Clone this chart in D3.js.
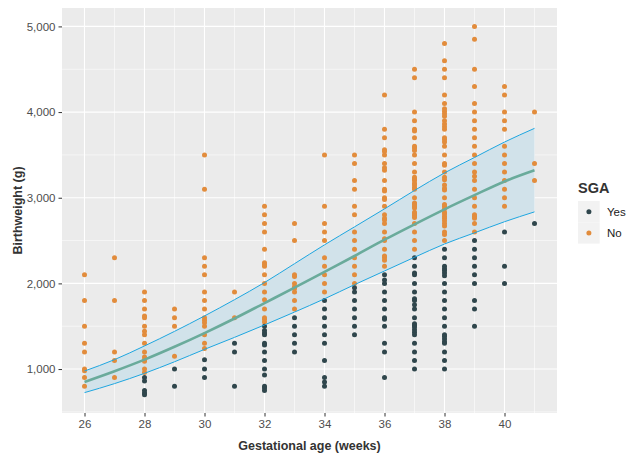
<!DOCTYPE html>
<html>
<head>
<meta charset="utf-8">
<script src="https://cdn.jsdelivr.net/npm/d3@7"></script>
<style>
  body { margin: 0; background: #fff; }
  svg { display: block; font-family: "Liberation Sans", Arial, sans-serif; }
</style>
</head>
<body>
<div id="chart"></div>
<script>
// Gestational age columns (weeks)
const ageWeeks = [26, 27, 28, 29, 30, 31, 32, 33, 34, 35, 36, 37, 38, 39, 40, 41];

// Birthweights (g) of SGA = "No" babies, one list per week
const noWeights = [
  [2100, 1800, 1500, 1300, 1200, 1000, 980, 900, 800],
  [2300, 1800, 1200, 1100, 900],
  [1900, 1800, 1700, 1620, 1600, 1500, 1440, 1400, 1300, 1200, 1140, 1110, 1090, 1000, 960],
  [1700, 1600, 1500, 1150],
  [3500, 3100, 2300, 2200, 2100, 1900, 1800, 1700, 1600, 1570, 1540, 1500, 1400, 1300, 1240],
  [1900, 1600],
  [2900, 2800, 2700, 2600, 2400, 2240, 2220, 2200, 2100, 2000, 1900, 1810, 1700, 1600, 1580, 1550],
  [2700, 2500, 2100, 2080, 2000, 1960, 1940, 1900, 1800, 1700],
  [3500, 2900, 2700, 2600, 2500, 2300, 2200, 2100, 2000, 1900],
  [3500, 3400, 3200, 3100, 2900, 2800, 2600, 2500, 2400, 2300, 2200, 2100, 2000],
  [4200, 3800, 3700, 3560, 3540, 3500, 3400, 3350, 3320, 3200, 3100, 3080, 3000, 2980, 2900, 2800,
   2760, 2740, 2700, 2600, 2520, 2500, 2400, 2320, 2300, 2270, 2200],
  [4500, 4400, 4000, 3900, 3800, 3780, 3700, 3600, 3580, 3550, 3500, 3400, 3300, 3240, 3220, 3200,
   3170, 3150, 3120, 3100, 3000, 2940, 2920, 2900, 2880, 2830, 2810, 2790, 2770, 2700, 2600, 2500, 2400],
  [4800, 4600, 4500, 4400, 4200, 4100, 4040, 4010, 3980, 3950, 3900, 3860, 3830, 3800, 3700, 3680,
   3650, 3600, 3500, 3400, 3380, 3300, 3240, 3210, 3150, 3110, 3090, 3000, 2920, 2900, 2870, 2830,
   2810, 2780, 2760, 2730, 2700, 2670, 2600, 2570, 2500],
  [5000, 4850, 4500, 4300, 4100, 4000, 3900, 3800, 3700, 3600, 3500, 3400, 3300, 3250, 3200, 3100,
   3000, 2900, 2800, 2780, 2760, 2700, 2600],
  [4300, 4200, 4000, 3900, 3800, 3600, 3500, 3400, 3300, 3200, 3100, 3000, 2900],
  [4000, 3400, 3200]
];

// Birthweights (g) of SGA = "Yes" babies, one list per week
const yesWeights = [
  [],
  [],
  [900, 860, 750, 720, 700],
  [1000, 800],
  [1110, 1000, 900],
  [1300, 1200, 800],
  [1500, 1450, 1420, 1400, 1300, 1280, 1200, 1100, 1000, 930, 800, 780, 750],
  [1600, 1500, 1400, 1300, 1200],
  [1800, 1700, 1600, 1500, 1400, 1300, 1100, 900, 850, 800],
  [1950, 1900, 1800, 1700, 1600, 1500, 1400],
  [2100, 2040, 2000, 1900, 1800, 1700, 1600, 1580, 1500, 1300, 1200, 900],
  [2300, 2200, 2120, 2100, 2000, 1900, 1820, 1800, 1750, 1700, 1600, 1530, 1510, 1490, 1460, 1430,
   1400, 1300, 1200, 1100, 1000],
  [2400, 2300, 2200, 2170, 2150, 2120, 2090, 2000, 1900, 1800, 1700, 1600, 1500, 1400, 1380, 1350,
   1320, 1300, 1200, 1100, 1000],
  [2500, 2400, 2300, 2200, 2100, 2000, 1800, 1700, 1500],
  [2600, 2200, 2000],
  [2700]
];

// Reference curve (median) and its band, read per week
const fitMedian = [850, 975, 1110, 1260, 1420, 1590, 1770, 1950, 2135, 2320, 2510, 2690, 2865, 3030, 3190, 3320];
const fitLower  = [725, 830, 950, 1085, 1230, 1370, 1515, 1665, 1820, 1985, 2145, 2305, 2460, 2590, 2720, 2835];
const fitUpper  = [977, 1110, 1270, 1440, 1620, 1810, 2010, 2230, 2450, 2660, 2870, 3085, 3290, 3470, 3650, 3810];

const xTicks = [26, 28, 30, 32, 34, 36, 38, 40];
const yTicks = [1000, 2000, 3000, 4000, 5000];
const sgaLevels = ["Yes", "No"];
const sgaColors = ["#2f464c", "#e28c3c"];

// Setup
const W = 634, H = 455;
const panel = { left: 62, right: 557, top: 8, bottom: 413 };

const svg = d3.select("#chart").append("svg")
  .attr("width", W).attr("height", H);

const x = d3.scaleLinear().domain([25.25, 41.75]).range([panel.left, panel.right]);
const y = d3.scaleLinear().domain([487, 5215]).range([panel.bottom, panel.top]);
const colour = d3.scaleOrdinal().domain(sgaLevels).range(sgaColors);

// flatten the point lists
const points = [];
ageWeeks.forEach((wk, i) => {
  noWeights[i].forEach(v => points.push({ age: wk, bw: v, sga: "No" }));
  yesWeights[i].forEach(v => points.push({ age: wk, bw: v, sga: "Yes" }));
});
const fit = ageWeeks.map((wk, i) => ({ age: wk, mid: fitMedian[i], lo: fitLower[i], hi: fitUpper[i] }));

// Panel + grid
svg.append("rect")
  .attr("x", panel.left).attr("y", panel.top)
  .attr("width", panel.right - panel.left).attr("height", panel.bottom - panel.top)
  .attr("fill", "#ebebeb");

const grid = svg.append("g");
const xMinor = d3.range(27, 42, 2);
const yMinor = [500, 1500, 2500, 3500, 4500];
grid.selectAll(".xmin").data(xMinor).enter().append("line")
  .attr("x1", d => x(d)).attr("x2", d => x(d))
  .attr("y1", panel.top).attr("y2", panel.bottom)
  .attr("stroke", "#fff").attr("stroke-width", 0.55);
grid.selectAll(".ymin").data(yMinor).enter().append("line")
  .attr("x1", panel.left).attr("x2", panel.right)
  .attr("y1", d => y(d)).attr("y2", d => y(d))
  .attr("stroke", "#fff").attr("stroke-width", 0.55);
grid.selectAll(".xmaj").data(xTicks).enter().append("line")
  .attr("x1", d => x(d)).attr("x2", d => x(d))
  .attr("y1", panel.top).attr("y2", panel.bottom)
  .attr("stroke", "#fff").attr("stroke-width", 1.1);
grid.selectAll(".ymaj").data(yTicks).enter().append("line")
  .attr("x1", panel.left).attr("x2", panel.right)
  .attr("y1", d => y(d)).attr("y2", d => y(d))
  .attr("stroke", "#fff").attr("stroke-width", 1.1);

// band
svg.append("path").datum(fit)
  .attr("fill", "#d1e2ea")
  .attr("d", d3.area().x(d => x(d.age)).y0(d => y(d.lo)).y1(d => y(d.hi)).curve(d3.curveMonotoneX));

// points
svg.append("g").selectAll("circle").data(points).enter().append("circle")
  .attr("cx", d => x(d.age)).attr("cy", d => y(d.bw))
  .attr("r", 2.5).attr("fill", d => colour(d.sga));

// band edges + median
const lineOf = key => d3.line().x(d => x(d.age)).y(d => y(d[key])).curve(d3.curveMonotoneX);
["lo", "hi"].forEach(k => {
  svg.append("path").datum(fit)
    .attr("fill", "none").attr("stroke", "#1ea6e0").attr("stroke-width", 1)
    .attr("d", lineOf(k));
});
svg.append("path").datum(fit)
  .attr("fill", "none").attr("stroke", "#6aab9b").attr("stroke-width", 2.6)
  .attr("d", lineOf("mid"));

// Axes
const xAxis = svg.append("g").attr("transform", `translate(0,${panel.bottom})`)
  .call(d3.axisBottom(x).tickValues(xTicks).tickSize(3.5).tickPadding(3).tickFormat(d3.format("d")));
const yAxis = svg.append("g").attr("transform", `translate(${panel.left},0)`)
  .call(d3.axisLeft(y).tickValues(yTicks).tickSize(3.5).tickPadding(3).tickFormat(d3.format(",")));
[xAxis, yAxis].forEach(a => {
  a.select(".domain").remove();
  a.selectAll(".tick line").attr("stroke", "#333").attr("stroke-width", 1);
  a.selectAll(".tick text").attr("fill", "#4d4d4d").style("font-size", "11.5px")
    .style("font-family", "'Liberation Sans', Arial, sans-serif");
});

svg.append("text")
  .attr("x", (panel.left + panel.right) / 2).attr("y", 450)
  .attr("text-anchor", "middle").attr("font-weight", "bold").attr("font-size", 12.5)
  .attr("fill", "#333").text("Gestational age (weeks)");
svg.append("text")
  .attr("transform", `translate(22,${(panel.top + panel.bottom) / 2}) rotate(-90)`)
  .attr("text-anchor", "middle").attr("font-weight", "bold").attr("font-size", 12.5)
  .attr("fill", "#333").text("Birthweight (g)");

// Legend
const legend = svg.append("g").attr("transform", "translate(578,0)");
legend.append("text").attr("x", 0).attr("y", 193)
  .attr("font-weight", "bold").attr("font-size", 14.5).attr("fill", "#333").text("SGA");
sgaLevels.forEach((lvl, i) => {
  const ky = 201 + i * 21.3;
  legend.append("rect").attr("x", 0).attr("y", ky).attr("width", 21.7).attr("height", 21.3).attr("fill", "#f2f2f2");
  legend.append("circle").attr("cx", 10.9).attr("cy", ky + 10.7).attr("r", 2.5).attr("fill", colour(lvl));
  legend.append("text").attr("x", 29).attr("y", ky + 10.7).attr("dy", "0.35em")
    .attr("font-size", 11.5).attr("fill", "#1a1a1a").text(lvl);
});
</script>
</body>
</html>
